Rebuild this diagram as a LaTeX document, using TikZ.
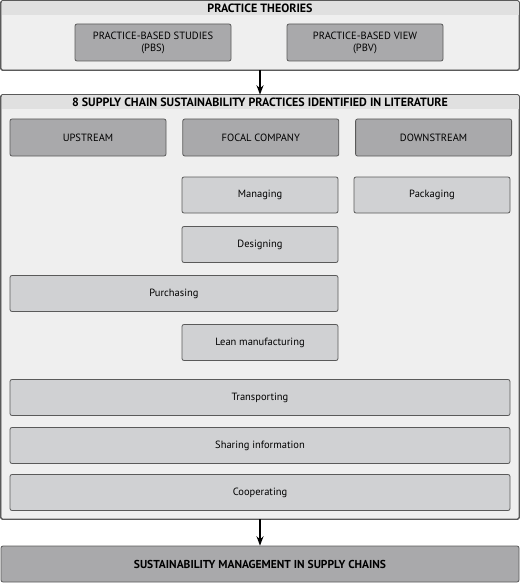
\documentclass[tikz,border=0pt]{standalone}
\usepackage{fontspec}
\setmainfont{PT Sans}
\usetikzlibrary{arrows.meta, positioning}

\definecolor{frameFill}{HTML}{EFEFEF}
\definecolor{bandFill}{HTML}{E0E0E0}
\definecolor{darkFill}{HTML}{A9A9AB}
\definecolor{lightFill}{HTML}{D0D1D3}
\definecolor{edgeGray}{HTML}{5A5A5A}

\begin{document}
\begin{tikzpicture}[
    x=1pt, y=1pt,
    >=Stealth,
    font=\fontsize{10.5}{12}\selectfont,
    frame/.style={draw=edgeGray, fill=frameFill, line width=0.8pt, rounded corners=1.5pt, inner sep=0pt},
    band/.style={fill=bandFill, minimum width=517pt, minimum height=14pt, inner sep=0pt, font=\fontsize{12}{13}\selectfont\bfseries},
    head/.style={draw=edgeGray, fill=darkFill, line width=0.8pt, rounded corners=2pt, minimum height=37pt, align=center, inner sep=0pt},
    practice/.style={draw=edgeGray, fill=lightFill, line width=0.8pt, rounded corners=2pt, minimum width=156pt, minimum height=36pt, inner sep=0pt}
]

\useasboundingbox (0,0) rectangle (520,-583);

% practice theories
\node (Theories) at (260, -35.5) [frame, minimum width=518pt, minimum height=69pt] {};
\node (TheoriesBand) at (260, -8.5) [band] {PRACTICE THEORIES};
\draw[edgeGray, line width=0.8pt, rounded corners=1.5pt] (Theories.south west) rectangle (Theories.north east);
\node (PBS) at (153, -42.5) [head, minimum width=156pt] {PRACTICE-BASED STUDIES\\(PBS)};
\node (PBV) at (365, -42.5) [head, minimum width=156pt] {PRACTICE-BASED VIEW\\(PBV)};

% practices in literature
\node (Practices) at (260, -307) [frame, minimum width=518pt, minimum height=424pt] {};
\node (PracticesBand) at (260, -102.5) [band] {8 SUPPLY CHAIN SUSTAINABILITY PRACTICES IDENTIFIED IN LITERATURE};
\draw[edgeGray, line width=0.8pt, rounded corners=1.5pt] (Practices.south west) rectangle (Practices.north east);

\node (Upstream) at (88, -137.5) [head, minimum width=156pt] {UPSTREAM};
\node (Focal) [right=16pt of Upstream, head, minimum width=156pt] {FOCAL COMPANY};
\node (Downstream) [right=16pt of Focal, head, minimum width=156pt] {DOWNSTREAM};

\node (Managing) at (260, -195) [practice] {Managing};
\node (Packaging) at (432, -195) [practice] {Packaging};
\node (Designing) at (260, -244.5) [practice] {Designing};
\node (Purchasing) at (174, -293.5) [practice, minimum width=328pt] {Purchasing};
\node (Lean) at (260, -342.5) [practice] {Lean manufacturing};
\node (Transporting) at (260, -397.5) [practice, minimum width=500pt] {Transporting};
\node (Sharing) at (260, -445.5) [practice, minimum width=500pt] {Sharing information};
\node (Cooperating) at (260, -492.5) [practice, minimum width=500pt] {Cooperating};

% outcome
\node (Management) at (260, -564) [head, minimum width=518pt, minimum height=36pt, font=\fontsize{11.5}{13}\selectfont\bfseries] {SUSTAINABILITY MANAGEMENT IN SUPPLY CHAINS};

\draw[->, line width=1.4pt] (Theories.south) -- (Practices.north);
\draw[->, line width=1.4pt] (Practices.south) -- (Management.north);

\end{tikzpicture}
\end{document}
